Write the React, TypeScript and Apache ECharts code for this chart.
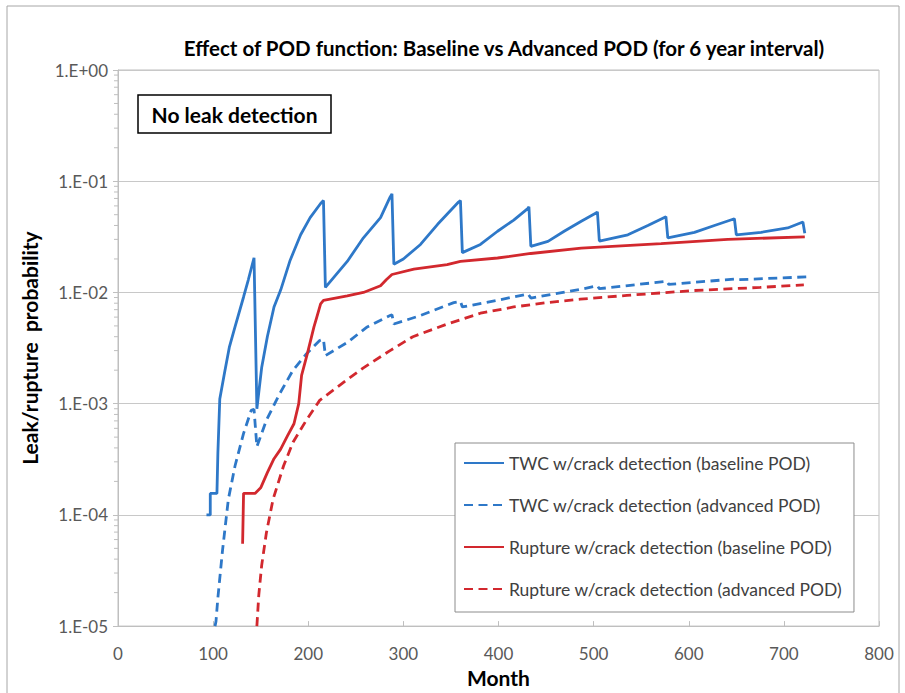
import React, { useEffect, useRef } from "react";
import * as echarts from "echarts";

const titleText = "Effect of POD function: Baseline vs Advanced POD (for 6 year interval)";
const boxText = "No leak detection";
const xName = "Month";
const yName = "Leak/rupture  probability";
const seriesNames = [
  "TWC w/crack detection (baseline POD)",
  "TWC w/crack detection (advanced POD)",
  "Rupture w/crack detection (baseline POD)",
  "Rupture w/crack detection (advanced POD)",
];
const xTicks = [0, 100, 200, 300, 400, 500, 600, 700, 800];
const yTicks = [1e-5, 1e-4, 1e-3, 1e-2, 1e-1, 1];

// [month, probability]
const twcBaseline = [
  [93, 1.0e-4], [97, 1.0e-4], [97, 1.56e-4], [104, 1.56e-4], [105, 3.6e-4], [107, 1.1e-3],
  [112, 1.9e-3], [117, 3.2e-3], [123, 4.9e-3], [132, 9.1e-3], [137, 1.3e-2], [143, 2.05e-2],
  [146, 9e-4], [151, 2.1e-3], [157, 4e-3], [164, 7.4e-3], [171, 1.05e-2], [181, 1.95e-2],
  [192, 3.3e-2], [202, 4.7e-2], [213, 6.3e-2], [216, 6.7e-2], [218, 1.11e-2], [241, 1.9e-2],
  [258, 3.1e-2], [276, 4.7e-2], [286, 7.2e-2], [288, 7.7e-2], [290, 1.79e-2], [300, 2.0e-2],
  [318, 2.7e-2], [336, 4.1e-2], [358, 6.5e-2], [360, 6.7e-2], [362, 2.28e-2], [381, 2.7e-2],
  [399, 3.55e-2], [416, 4.47e-2], [431, 5.7e-2], [432, 5.9e-2], [434, 2.6e-2], [452, 2.88e-2],
  [469, 3.55e-2], [487, 4.37e-2], [503, 5.2e-2], [504, 5.3e-2], [506, 2.9e-2], [536, 3.3e-2],
  [557, 4.0e-2], [576, 4.8e-2], [578, 3.1e-2], [606, 3.47e-2], [627, 4.0e-2], [648, 4.6e-2],
  [650, 3.3e-2], [676, 3.47e-2], [704, 3.8e-2], [720, 4.3e-2], [722, 3.4e-2],
];

const twcAdvanced = [
  [102, 1.0e-5], [103, 1.1e-5], [105, 1.8e-5], [110, 4.9e-5], [116, 1.38e-4], [123, 2.75e-4],
  [132, 5.4e-4], [140, 8.7e-4], [143, 8.9e-4], [146, 4.1e-4], [156, 7.1e-4], [170, 1.23e-3],
  [184, 2.0e-3], [198, 2.8e-3], [212, 3.7e-3], [216, 3.8e-3], [218, 2.7e-3], [241, 3.55e-3],
  [262, 4.9e-3], [286, 6.2e-3], [288, 6.3e-3], [290, 5.2e-3], [318, 6.2e-3], [353, 8.1e-3],
  [360, 8.3e-3], [362, 7.4e-3], [399, 8.5e-3], [431, 9.7e-3], [434, 8.9e-3], [487, 1.07e-2],
  [504, 1.15e-2], [506, 1.08e-2], [577, 1.26e-2], [579, 1.18e-2], [648, 1.32e-2], [650, 1.3e-2],
  [724, 1.38e-2],
];

const ruptureBaseline = [
  [131, 5.5e-5], [132, 1.56e-4], [144, 1.56e-4], [150, 1.75e-4], [157, 2.4e-4], [164, 3.2e-4],
  [171, 3.9e-4], [178, 5.1e-4], [185, 6.6e-4], [190, 1.0e-3], [193, 1.8e-3], [199, 2.8e-3],
  [206, 4.9e-3], [209, 6.0e-3], [213, 7.9e-3], [216, 8.5e-3], [241, 9.3e-3], [258, 1.0e-2],
  [276, 1.15e-2], [282, 1.3e-2], [288, 1.45e-2], [311, 1.62e-2], [346, 1.78e-2], [360, 1.9e-2],
  [399, 2.04e-2], [434, 2.24e-2], [487, 2.5e-2], [571, 2.75e-2], [641, 3.0e-2], [722, 3.16e-2],
];

const ruptureAdvanced = [
  [146, 1.0e-5], [148, 1.9e-5], [151, 3.5e-5], [156, 6.9e-5], [163, 1.38e-4], [174, 2.75e-4],
  [184, 4.5e-4], [198, 7.1e-4], [212, 1.07e-3], [240, 1.62e-3], [258, 2.1e-3], [286, 3.0e-3],
  [310, 4.0e-3], [346, 5.2e-3], [381, 6.5e-3], [416, 7.4e-3], [451, 8.1e-3], [486, 8.7e-3],
  [535, 9.4e-3], [605, 1.04e-2], [675, 1.11e-2], [721, 1.17e-2],
];

const minorTickValues: number[] = [];
for (let e = -5; e < 0; e++) {
  for (let m = 2; m <= 9; m++) minorTickValues.push(m * Math.pow(10, e));
}

const BLUE = "#2e78c8";
const RED = "#d2282e";
const FONT = "Lato";

function fmtExp(v: number) {
  const e = Math.round(Math.log10(v));
  const s = e < 0 ? "-" : "+";
  const a = Math.abs(e);
  return "1.E" + s + (a < 10 ? "0" + a : String(a));
}

export default function App() {
  const ref = useRef<HTMLDivElement>(null);
  useEffect(() => {
    if (!ref.current) return;
    const chart = echarts.init(ref.current, undefined, { renderer: "svg" });
    const lineSeries = (name: string, data: number[][], color: string, dashed: boolean) => ({
      name,
      type: "line",
      data,
      showSymbol: false,
      symbol: "none",
      smooth: false,
      lineStyle: { color, width: 2.8, type: dashed ? [9, 5.5] : "solid" },
      itemStyle: { color },
      z: 3,
    });
    chart.setOption({
      animation: false,
      backgroundColor: "#ffffff",
      textStyle: { fontFamily: FONT },
      title: {
        text: titleText,
        left: 499,
        textAlign: "center",
        top: 32,
        textStyle: { fontSize: 20.5, fontWeight: "bold", color: "#000", fontFamily: FONT },
      },
      grid: {
        left: 118,
        right: 26,
        top: 70,
        bottom: 62,
        show: true,
        borderColor: "#bfbfbf",
        borderWidth: 1,
        backgroundColor: "transparent",
      },
      legend: {
        data: seriesNames,
        orient: "vertical",
        left: 455,
        top: 443,
        itemWidth: 40,
        itemHeight: 14,
        itemGap: 24,
        padding: [11, 12, 14, 8],
        backgroundColor: "#ffffff",
        borderColor: "#8c8c8c",
        borderWidth: 1,
        itemStyle: { opacity: 0 },
        textStyle: { fontSize: 17.5, color: "#404040", fontFamily: FONT },
        selectedMode: false,
      },
      xAxis: {
        type: "value",
        min: xTicks[0],
        max: xTicks[xTicks.length - 1],
        interval: 100,
        name: xName,
        nameLocation: "middle",
        nameGap: 38,
        nameTextStyle: { fontSize: 21, fontWeight: "bold", color: "#000", fontFamily: FONT },
        axisLine: { show: true, lineStyle: { color: "#bfbfbf", width: 1 } },
        axisTick: { show: true, inside: true, length: 5, lineStyle: { color: "#bfbfbf" } },
        axisLabel: { fontSize: 17, color: "#595959", margin: 19, fontFamily: FONT },
        splitLine: { show: false },
      },
      yAxis: {
        type: "log",
        logBase: 10,
        min: yTicks[0],
        max: yTicks[yTicks.length - 1],
        name: yName,
        nameLocation: "middle",
        nameGap: 78,
        nameTextStyle: { fontSize: 21, fontWeight: "bold", color: "#000", fontFamily: FONT },
        axisLine: { show: true, lineStyle: { color: "#bfbfbf", width: 1 } },
        axisTick: { show: true, length: 5, lineStyle: { color: "#bfbfbf" } },
        axisLabel: { fontSize: 17, color: "#595959", margin: 10, formatter: fmtExp, fontFamily: FONT },
        splitLine: { show: true, lineStyle: { color: "#c8c8c8", width: 1 } },
      },
      graphic: [
        {
          type: "rect",
          shape: { x: 7, y: 6, width: 892, height: 700 },
          style: { fill: "none", stroke: "#a6a6a6", lineWidth: 1 },
          silent: true,
          z: -10,
        },
        {
          type: "rect",
          shape: { x: 138, y: 95, width: 193, height: 38 },
          style: { fill: "#ffffff", stroke: "#000000", lineWidth: 1.5 },
          z: 10,
        },
        {
          type: "text",
          x: 234.5,
          y: 114,
          style: {
            text: boxText,
            fill: "#000",
            font: "bold 21px " + FONT,
            align: "center",
            verticalAlign: "middle",
          },
          z: 11,
        },
      ],
      series: [
        lineSeries(seriesNames[0], twcBaseline, BLUE, false),
        lineSeries(seriesNames[1], twcAdvanced, BLUE, true),
        lineSeries(seriesNames[2], ruptureBaseline, RED, false),
        lineSeries(seriesNames[3], ruptureAdvanced, RED, true),
        {
          name: "minorTicks",
          type: "custom",
          data: minorTickValues.map((v) => [0, v]),
          clip: false,
          silent: true,
          renderItem: (_params: any, api: any) => {
            const p = api.coord([api.value(0), api.value(1)]);
            return {
              type: "line",
              shape: { x1: p[0] - 4, y1: p[1], x2: p[0], y2: p[1] },
              style: { stroke: "#bfbfbf", lineWidth: 1 },
            };
          },
          z: 1,
        },
      ],
    });
    return () => chart.dispose();
  }, []);
  return (
    <div
      ref={ref}
      style={{ position: "fixed", left: 0, top: 0, width: 905, height: 693 }}
    />
  );
}
